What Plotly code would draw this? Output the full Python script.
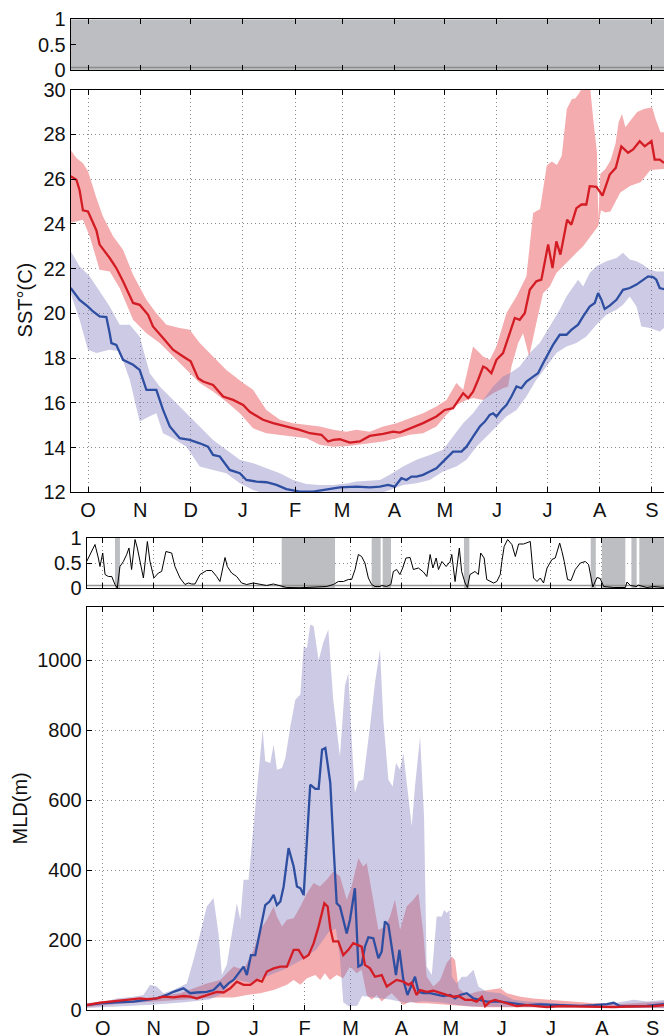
import plotly.graph_objects as go

# ---------------- data (x = days since 1 October) ----------------
month_days = [0, 31, 61, 92, 123, 151, 182, 212, 243, 273, 304, 335]
month_labels = ["O", "N", "D", "J", "F", "M", "A", "M", "J", "J", "A", "S"]

sst_ticks = [12, 14, 16, 18, 20, 22, 24, 26, 28, 30]
mld_ticks = [0, 200, 400, 600, 800, 1000]
p_ticks = [0, 0.5, 1]
p_tick_text = ["0", "0.5", "1"]
p_threshold = 0.05

sst_red = [(-10.3,26.12),(-6.9,25.97),(-5.0,25.5),(-3.0,24.6),(0,24.55),(5.0,23.7),(6.9,23.07),(12.9,22.47),(16.8,22.02),(20.8,21.43),(26.8,20.46),(30.7,20.38),(35.7,19.93),(38.6,19.41),(44.6,18.89),(50.5,18.37),(56.5,18.07),(61.0,17.85),(65.4,17.1),(68.4,16.95),(74.3,16.8),(80.3,16.28),(86.2,16.13),(92.2,15.9),(96.1,15.6),(104,15.24),(110,15.09),(118,14.94),(125.8,14.79),(131.8,14.64),(138.7,14.57),(142.7,14.27),(145.7,14.34),(149.6,14.37),(155.6,14.22),(161.5,14.27),(167.4,14.52),(175.4,14.61),(181.3,14.71),(185.3,14.67),(191.2,14.86),(199.1,15.09),(207,15.39),(212,15.68),(216.9,15.76),(222.9,16.43),(225.9,16.21),(228.8,16.5),(231.8,17.03),(234.8,17.62),(236.7,17.55),(239.7,17.32),(242.7,17.92),(246.6,18.22),(250.6,19.11),(253.6,19.79),(256.5,19.71),(259.5,20.0),(262.5,21.05),(266.4,21.43),(269.4,21.5),(273.4,23.07),(276,22.02),(278.3,23.21),(280.7,22.62),(284.7,24.18),(287.2,23.96),(290.2,24.7),(293.2,24.86),(296.1,24.86),(298.1,25.68),(302.1,25.65),(305.7,25.26),(310,26.2),(313.6,26.5),(316.9,27.46),(320.9,27.17),(323.9,27.32),(327.8,27.69),(330.8,27.46),(334.8,27.69),(336.7,26.87),(339.7,26.87),(342.3,26.72)]
sst_red_hi = [(-10.3,27.3),(-6.9,26.94),(-3.0,26.7),(0,26.35),(5.0,25.15),(8.9,24.33),(14.9,23.44),(20.8,22.84),(26.8,21.72),(34.7,20.6),(40.6,20.0),(46.6,19.49),(54.5,19.34),(60.4,19.26),(66.4,18.67),(74.3,18.07),(82.2,17.47),(92.2,16.88),(98.1,16.58),(106,15.68),(114,15.24),(121.9,15.09),(129.8,15.0),(137.7,14.94),(145.7,14.79),(153.6,14.71),(159.5,14.79),(167.4,14.71),(175.4,14.94),(183.3,15.09),(191.2,15.31),(199.1,15.53),(207,15.83),(213,16.13),(218.9,16.88),(222.9,16.58),(228.8,18.52),(234.8,18.07),(238.7,17.92),(242.7,18.52),(248.6,20.0),(254.6,20.75),(260.5,21.65),(264.5,24.48),(268.6,24.66),(272.6,26.6),(275.6,26.78),(278.6,26.63),(281.5,27.04),(284.5,29.13),(287.5,29.58),(289.5,29.6),(291.5,29.8),(293.5,30.05),(296.5,30.15),(298.4,30.05),(300.4,28.54),(302.4,27.2),(303.2,24.2),(304.4,26.22),(307.4,26.45),(310.4,26.82),(313.4,27.57),(315.3,28.54),(317.3,28.91),(319.3,28.31),(322.3,28.61),(326.3,28.99),(330.3,29.13),(335.2,29.21),(337.2,28.69),(340.2,28.09),(342.6,28.09)]
sst_red_lo = [(-10.3,24.04),(-3.0,24.18),(1.0,23.44),(6.9,21.95),(12.9,21.87),(18.8,21.13),(26.8,19.71),(34.7,19.11),(42.6,18.67),(50.5,18.07),(58.5,17.47),(66.4,16.88),(74.3,16.5),(82.2,16.05),(90.2,15.53),(98.1,14.86),(106,14.64),(114,14.57),(121.9,14.49),(129.8,14.42),(137.7,14.12),(145.7,14.04),(154.6,14.07),(159.5,14.12),(167.4,14.19),(175.4,14.27),(183.3,14.42),(191.2,14.57),(199.1,14.64),(207,14.94),(213,15.46),(218.9,15.9),(224.9,16.13),(228.8,16.21),(234.8,16.13),(240.7,16.43),(246.6,16.65),(249.6,16.73),(251.6,17.62),(255.6,18.67),(258.5,19.11),(262.1,18.07),(266.4,19.56),(270.4,20.9),(274.4,21.2),(278.3,21.8),(282.3,22.1),(286.2,22.4),(290.2,22.7),(294.2,22.99),(297.1,23.29),(300.1,23.59),(303.2,23.9),(304.8,24.6),(307.4,24.5),(310.4,24.55),(316.3,25.4),(322.3,25.7),(328.3,25.85),(334.2,26.4),(342.6,26.45)]

sst_blue = [(-10.3,21.13),(-5.0,20.6),(0,20.3),(3.0,20.08),(6.9,19.86),(10.9,19.83),(12.9,19.11),(13.9,18.67),(16.8,18.59),(18.8,18.22),(20.8,17.92),(26.8,17.7),(30.7,17.47),(34.7,16.58),(40.6,16.58),(44.6,15.68),(48.6,14.94),(54.5,14.42),(60.4,14.34),(66.4,14.19),(71.3,14.04),(74.3,13.67),(78.3,13.6),(84.2,13.0),(90.2,12.85),(94.1,12.55),(100.1,12.48),(106,12.45),(112,12.33),(117.9,12.14),(125.8,12.03),(133.8,12.03),(141.7,12.14),(149.6,12.22),(159.5,12.25),(167.4,12.22),(173.4,12.25),(178.3,12.33),(182.3,12.25),(186.2,12.63),(189.2,12.55),(192.2,12.7),(195.2,12.7),(199.1,12.78),(203.1,12.93),(207,13.07),(212,13.45),(216.9,13.82),(221.9,13.82),(224.9,14.04),(228.8,14.49),(232.8,14.94),(235.8,15.16),(238.7,15.46),(240.7,15.53),(242.7,15.39),(245.7,15.68),(248.6,15.9),(251.6,16.28),(254.6,16.73),(257.5,16.65),(260.5,16.95),(264.5,17.17),(267.4,17.32),(270.4,17.77),(273.4,18.22),(276.3,18.59),(280.3,19.04),(284.3,19.04),(287.2,19.26),(291.2,19.49),(294.2,19.86),(298.1,20.3),(301.1,20.46),(303.1,20.9),(305.1,20.6),(307,20.19),(310,20.34),(314,20.6),(317.9,21.05),(321.9,21.13),(325.9,21.28),(329.8,21.5),(332.8,21.65),(335.8,21.62),(337.7,21.5),(339.7,21.13),(342.3,21.08)]
sst_blue_hi = [(-10.3,22.77),(-5.0,22.1),(1.0,21.65),(6.9,20.98),(12.9,20.3),(18.8,19.49),(24.8,19.49),(30.7,18.96),(36.7,17.32),(42.6,16.73),(50.5,16.13),(58.5,15.53),(66.4,14.94),(74.3,14.34),(82.2,13.9),(90.2,13.45),(98.1,13.3),(106,13.07),(114,12.85),(121.9,12.55),(129.8,12.37),(137.7,12.33),(145.7,12.33),(154.6,12.4),(159.5,12.48),(173.4,12.55),(179.3,12.78),(187.2,13.15),(195.2,13.45),(203.1,13.67),(211,13.9),(216.9,14.49),(222.9,15.09),(228.8,15.53),(234.8,16.13),(240.7,16.73),(246.6,17.17),(250.6,17.32),(256.5,17.62),(262.5,18.22),(268.4,18.67),(274.4,19.41),(280.3,20.16),(284.3,20.75),(288.2,21.2),(291.2,21.5),(294.2,21.2),(298.1,21.8),(302.1,22.1),(308,22.32),(314,22.47),(317.9,22.7),(321.9,22.4),(325.9,22.32),(329.8,22.17),(333.8,21.95),(337.7,21.87),(342.3,21.87)]
sst_blue_lo = [(-10.3,20.9),(-5.0,19.71),(0,18.37),(5.0,18.22),(8.9,18.3),(12.9,18.37),(18.8,18.3),(24.8,17.03),(30.7,15.16),(36.7,15.4),(40.6,15.53),(44.6,14.64),(50.5,14.42),(58.5,14.04),(66.4,13.15),(74.3,13.0),(82.2,12.85),(90.2,12.4),(98.1,12.1),(106,11.9),(130,11.8),(160,11.8),(173.4,11.95),(179.3,12.1),(187.2,12.33),(195.2,12.4),(203.1,12.55),(211,12.93),(218.9,13.15),(224.9,13.45),(230.8,14.04),(236.7,14.49),(242.7,14.94),(248.6,15.39),(254.6,15.68),(260.5,16.28),(266.4,17.03),(272.4,17.62),(278.3,18.22),(284.3,18.52),(290.2,18.67),(296.1,18.96),(302.1,19.49),(308,19.93),(314,20.16),(317.9,20.38),(321.9,20.75),(325.9,20.3),(328.8,19.41),(333.8,19.34),(339.7,19.19),(342.3,19.34)]

mld_blue = [(-9.8,14),(-1.6,19),(8.5,22),(18.7,24),(26.8,29),(32.9,33),(39.0,43),(43.1,52),(49.2,62),(53.3,48),(57.3,50),(63.4,52),(67.5,57),(71.6,76),(73.6,62),(76.6,76),(79.7,86),(82.7,105),(85.8,124),(87.8,100),(90.3,157),(92.9,157),(95.9,229),(99.0,300),(101.6,310),(104.1,329),(106.1,300),(108.2,310),(110.2,353),(113.2,463),(116.3,410),(118.3,353),(120.4,348),(122.4,329),(126.4,644),(129.5,632),(131.5,632),(133.6,744),(135.6,749),(138.6,649),(140.7,458),(142.5,305),(144.5,296),(146.5,258),(148.6,219),(150.6,258),(153.6,348),(155.7,124),(157.7,129),(159.7,181),(161.8,208),(164.8,205),(167.9,148),(169.9,167),(171.9,253),(174,243),(176,181),(178.6,100),(180.7,172),(183.1,86),(185.6,43),(187.6,67),(190.2,95),(192.3,52),(195.3,48),(199.4,48),(203.4,43),(207.5,40),(211.6,43),(214.6,33),(217.7,43),(221.7,48),(225.8,33),(229.9,29),(233.9,24),(242.1,24),(250.2,19),(258.3,14),(266.4,16),(274.5,14),(282.7,12),(290.8,12),(298.8,14),(307.1,17),(311.2,21),(315.2,11),(323.4,11),(331.5,12),(342.1,17)]
mld_blue_hi = [(-9.8,10),(8.5,33),(18.7,38),(24.8,43),(28.9,72),(32.9,67),(37.0,48),(43.1,57),(51.2,76),(55.3,143),(59.4,219),(63.4,296),(67.5,320),(70.5,219),(72.6,100),(75.6,129),(78.7,219),(81.7,305),(83.8,258),(85.8,372),(88.8,372),(91.9,534),(94.9,668),(97.4,802),(99.0,711),(102.1,706),(104.1,759),(106.1,687),(109.2,692),(111.2,720),(114.3,811),(117.3,887),(120.4,902),(122.4,1040),(124.4,1035),(126.4,1102),(128.5,1097),(131.5,999),(134.3,1050),(137.4,1088),(140.4,887),(144.5,725),(147.5,926),(149.6,963),(151.6,773),(153.6,620),(155.7,654),(158.7,658),(162.8,811),(165.8,935),(168.9,1031),(170.9,830),(174,658),(176.6,639),(178.6,706),(181.1,687),(183.1,735),(186.2,601),(188.2,525),(190.2,639),(193.3,782),(195.7,553),(197.3,124),(200.4,100),(203.4,267),(206.5,267),(207.9,286),(209.5,277),(211.2,286),(212.6,95),(215.6,76),(218.7,95),(221.7,95),(225.8,115),(228.8,67),(233.9,52),(242.1,48),(250.2,29),(258.3,24),(274.6,19),(294.9,14),(311.2,19),(323.4,29),(331.5,24),(342.1,29)]
mld_blue_lo = [(-9.8,6),(10,10),(30,15),(50,22),(65,30),(72,45),(80,88),(90,78),(100,96),(110,115),(120,140),(130,172),(138,225),(142,232),(144.5,150),(146.5,22),(150,10),(155,12),(158,40),(165,35),(175,30),(185,20),(195,25),(205,22),(215,15),(225,10),(240,8),(342.1,5)]

mld_red = [(-9.8,14),(-1.6,21),(4.5,24),(14.6,29),(22.8,33),(26.8,31),(32.9,33),(37.0,38),(43.1,36),(49.2,40),(53.3,38),(57.3,33),(63.4,43),(69.5,52),(73.6,50),(77.7,62),(81.7,81),(85.8,72),(89.9,72),(93.9,86),(97.0,81),(100,110),(104.1,119),(108.2,124),(112.2,124),(116.3,172),(119.3,172),(122.4,148),(125.4,157),(128.5,191),(131.5,239),(135.0,305),(137.0,296),(138.6,234),(140.4,196),(143.5,196),(146.5,157),(149.6,172),(152.6,191),(155.7,186),(157.7,181),(159.7,129),(162.8,119),(165.8,95),(169.9,100),(173,67),(176,76),(179,86),(183.1,81),(186.2,72),(188.2,78),(191.2,43),(193.3,57),(197.3,52),(201.4,55),(205.5,48),(209.5,43),(213.6,38),(216.7,40),(220.7,29),(224.8,29),(227.8,24),(230.9,38),(232.9,11),(236,24),(239,29),(243.1,24),(248.2,17),(252.2,11),(258.3,14),(264.4,11),(270.5,8),(278.6,11),(286.8,10),(294.9,10),(303,8),(311.2,8),(319.3,10),(327.4,10),(335.6,11),(342.1,14)]
mld_red_hi = [(-9.8,19),(8.5,29),(28.9,33),(39.0,43),(47.2,48),(55.3,62),(63.4,76),(71.6,86),(79.7,124),(85.8,115),(91.9,172),(95.9,229),(100,258),(104.1,296),(106.1,267),(109.2,239),(112.2,258),(116.3,262),(120.4,296),(124.4,334),(128.5,363),(132.3,353),(136.4,372),(140.4,396),(144.5,382),(148.6,315),(151.6,353),(155.7,434),(158.7,410),(160.8,420),(164.8,315),(167.9,229),(171.9,239),(175,267),(178,315),(181.1,229),(185.1,296),(189.2,315),(192.3,334),(195.3,219),(197.3,95),(201.4,67),(205.5,86),(209.5,134),(212.6,153),(214.6,143),(216.7,62),(221.7,43),(227.8,52),(233.9,57),(242.1,62),(246.1,48),(254.3,38),(262.4,33),(274.6,29),(286.8,24),(299,19),(315.2,17),(335.6,21),(342.1,24)]
mld_red_lo = [(-9.8,8),(8.5,17),(28.9,24),(49.2,31),(59.4,33),(69.5,36),(79.7,36),(87.8,43),(95.9,48),(104.1,57),(112.2,72),(116.3,86),(120.4,72),(124.4,91),(129.5,100),(132.5,86),(135.3,105),(138.4,86),(142.5,100),(146.5,91),(150.6,124),(154.7,105),(157.7,115),(160.8,43),(163.8,29),(166.9,43),(169.9,24),(173,38),(176,48),(180.1,29),(183.1,14),(187.2,24),(191.2,19),(197.3,19),(205.5,17),(213.6,14),(221.7,11),(233.9,8),(254.3,6),(342.1,6)]

# p-value of the MLD difference, and periods with p < 0.05
p_mld = [(-9.76,0.53),(-7.73,0.67),(-4.69,0.87),(-2.66,0.6),(-1.66,0.43),(0.02,0.7),(1.44,0.27),(3.47,0.23),(5.5,0.23),(7.5,0.07),(8.9,0.0),(10.5,0.43),(12.6,0.53),(14.6,0.67),(16.0,0.8),(17.6,0.37),(19.7,0.97),(21.1,0.8),(22.7,0.53),(24.8,0.2),(27.2,0.93),(28.8,0.53),(31.2,0.2),(33.9,0.3),(35.9,0.33),(38.5,0.73),(42.0,0.7),(44.0,0.43),(47.1,0.2),(50.1,0.07),(52.2,0.1),(54.2,0.08),(56.2,0.08),(59.3,0.27),(63.3,0.35),(66.4,0.35),(69.4,0.23),(71.4,0.13),(74.5,0.61),(75.9,0.43),(78.5,0.3),(81.6,0.23),(84.6,0.1),(87.7,0.07),(91.7,0.1),(95.8,0.08),(99.8,0.05),(103.9,0.08),(108.0,0.05),(112.0,0.01),(120.2,0.005),(128.3,0.01),(136.4,0.03),(140.5,0.07),(143.5,0.13),(146.6,0.13),(149.6,0.17),(151.6,0.17),(153.7,0.37),(155.7,0.67),(157.7,0.63),(159.7,0.5),(161.8,0.2),(163.8,0.07),(165.8,0.03),(168.8,0.03),(170.0,0.05),(172.9,0.03),(175.5,0.07),(177,0.33),(179,0.37),(181,0.27),(182.7,0.4),(184.7,0.6),(187.2,0.61),(189.2,0.37),(192.3,0.4),(195.3,0.32),(197.4,0.23),(199.4,0.67),(201.1,0.4),(203.1,0.6),(204.5,0.37),(206.6,0.53),(209.2,0.43),(211.6,0.53),(212.6,0.67),(214.6,0.13),(217.2,0.8),(218.6,0.33),(220.7,0.1),(222.1,0.01),(223.7,0.27),(226.7,0.33),(228.8,0.27),(230.2,0.7),(232.3,0.6),(233.9,0.17),(235.9,0.13),(238,0.1),(240,0.13),(242.1,0.27),(243.1,0.53),(244.5,0.83),(246.6,0.97),(249.2,0.87),(251.3,0.63),(253.3,0.88),(256.3,0.88),(260.4,0.93),(262.4,0.2),(264.5,0.13),(266.5,0.2),(268.5,0.1),(270.6,0.4),(273.6,0.57),(275.6,0.6),(278.3,0.9),(279.7,0.73),(281.1,0.53),(283.1,0.17),(285.2,0.15),(287.8,0.37),(290.9,0.5),(293.9,0.53),(295.9,0.47),(298.5,0.02),(301,0.21),(303,0.19),(305.1,0.03),(311.2,0.01),(318.3,0.01),(319.3,0.12),(321.4,0.05),(325.4,0.03),(326.0,0.06),(331.5,0.01),(335.6,0.03),(342.1,0.01)]
p_mld_zones = [(7.5,10.5),(109,141.5),(163.8,169.3),(170.5,175.6),(220,223.3),(297.2,300.3),(304,318.3),(322,325.2),(326.8,350)]
p_sst_zones = [(-20,350)]

# ---------------- styling ----------------
FONT = "Liberation Sans, Arial, Helvetica, sans-serif"
RED = "rgb(212,28,36)"
BLUE = "rgb(46,78,162)"
PINK = "#f4acaf"
LAV = "rgba(128,123,188,0.4)"
ZONE = "#bdbec1"
THR = "rgb(150,150,150)"
W, H = 664, 1035

def xs(pts):
    return [p[0] for p in pts]

def ys(pts):
    return [p[1] for p in pts]

def band(hi, lo, color, xa, ya):
    return go.Scatter(x=xs(hi) + xs(lo)[::-1], y=ys(hi) + ys(lo)[::-1],
                      fill="toself", fillcolor=color, mode="lines",
                      line=dict(width=0), hoverinfo="skip", showlegend=False,
                      xaxis=xa, yaxis=ya)

def line(pts, color, width, xa, ya):
    return go.Scatter(x=xs(pts), y=ys(pts), mode="lines",
                      line=dict(color=color, width=width), showlegend=False,
                      xaxis=xa, yaxis=ya)

def zones(zs, xa, ya):
    zx, zy = [], []
    for a, b in zs:
        zx += [a, b, b, a, a, None]
        zy += [0, 0, 1, 1, 0, None]
    return go.Scatter(x=zx, y=zy, fill="toself", fillcolor=ZONE, mode="lines",
                      line=dict(width=0), hoverinfo="skip", showlegend=False,
                      xaxis=xa, yaxis=ya)

fig = go.Figure()

# panel 1: SST p-value (all significant)
fig.add_trace(zones(p_sst_zones, "x", "y"))
fig.add_trace(go.Scatter(x=[-20, 350], y=[p_threshold, p_threshold], mode="lines",
                         line=dict(color="rgb(140,140,140)", width=1.5),
                         showlegend=False, xaxis="x", yaxis="y"))

# panel 2: SST
fig.add_trace(band(sst_red_hi, sst_red_lo, PINK, "x2", "y2"))
fig.add_trace(band(sst_blue_hi, sst_blue_lo, LAV, "x2", "y2"))
fig.add_trace(line(sst_blue, BLUE, 2.3, "x2", "y2"))
fig.add_trace(line(sst_red, RED, 2.3, "x2", "y2"))

# panel 3: MLD p-value
fig.add_trace(zones(p_mld_zones, "x3", "y3"))
fig.add_trace(go.Scatter(x=[-20, 350], y=[p_threshold, p_threshold], mode="lines",
                         line=dict(color=THR, width=1.5),
                         showlegend=False, xaxis="x3", yaxis="y3"))
fig.add_trace(line(p_mld, "black", 1, "x3", "y3"))

# panel 4: MLD
fig.add_trace(band(mld_red_hi, mld_red_lo, PINK, "x4", "y4"))
fig.add_trace(band(mld_blue_hi, mld_blue_lo, LAV, "x4", "y4"))
fig.add_trace(line(mld_blue, BLUE, 2.3, "x4", "y4"))
fig.add_trace(line(mld_red, RED, 2.3, "x4", "y4"))

def ydom(top_px, bot_px):
    return [1 - bot_px / H, 1 - top_px / H]

top_x = [70.7 / W, 1.0]
bot_x = [86.7 / W, 1.0]
top_range = [-10.28, 342.25]
bot_range = [-9.74, 341.84]

common = dict(showline=True, linecolor="black", linewidth=1, ticks="inside",
              ticklen=5, tickcolor="black", tickwidth=1, showgrid=True,
              gridcolor="rgb(140,140,140)", griddash="1px,3px", gridwidth=1,
              zeroline=False, automargin=False,
              tickfont=dict(family=FONT, size=20, color="#111"))

xcommon = dict(common, tickmode="array", tickvals=month_days, ticktext=month_labels,
               mirror="ticks")

fig.update_layout(
    width=W, height=H, autosize=False,
    margin=dict(l=0, r=0, t=0, b=0, pad=0, autoexpand=False),
    paper_bgcolor="white", plot_bgcolor="white",
    showlegend=False,
    xaxis=dict(xcommon, domain=top_x, range=top_range, anchor="y", showticklabels=False),
    yaxis=dict(common, domain=ydom(19.3, 70), range=[0, 1], anchor="x",
               tickmode="array", tickvals=p_ticks, ticktext=p_tick_text),
    xaxis2=dict(xcommon, domain=top_x, range=top_range, anchor="y2"),
    yaxis2=dict(common, domain=ydom(89.5, 492.3), range=[12, 30], anchor="x2",
                tickmode="array", tickvals=sst_ticks),
    xaxis3=dict(xcommon, domain=bot_x, range=bot_range, anchor="y3", showticklabels=False),
    yaxis3=dict(common, domain=ydom(538, 588), range=[0, 1], anchor="x3",
                tickmode="array", tickvals=p_ticks, ticktext=p_tick_text),
    xaxis4=dict(xcommon, domain=bot_x, range=bot_range, anchor="y4"),
    yaxis4=dict(common, domain=ydom(607, 1010), range=[0, 1152], anchor="x4",
                tickmode="array", tickvals=mld_ticks),
    annotations=[
        dict(text="SST°(C)", xref="paper", yref="paper", x=25 / W, y=1 - 300.4 / H,
             textangle=-90, showarrow=False, xanchor="center", yanchor="middle",
             font=dict(family=FONT, size=20, color="#111")),
        dict(text="MLD(m)", xref="paper", yref="paper", x=19.5 / W, y=1 - 809 / H,
             textangle=-90, showarrow=False, xanchor="center", yanchor="middle",
             font=dict(family=FONT, size=20, color="#111")),
    ],
)

fig.write_html("out.html", config={"displayModeBar": False},
               post_script="document.body.style.margin='0px';document.body.style.overflow='hidden';")
